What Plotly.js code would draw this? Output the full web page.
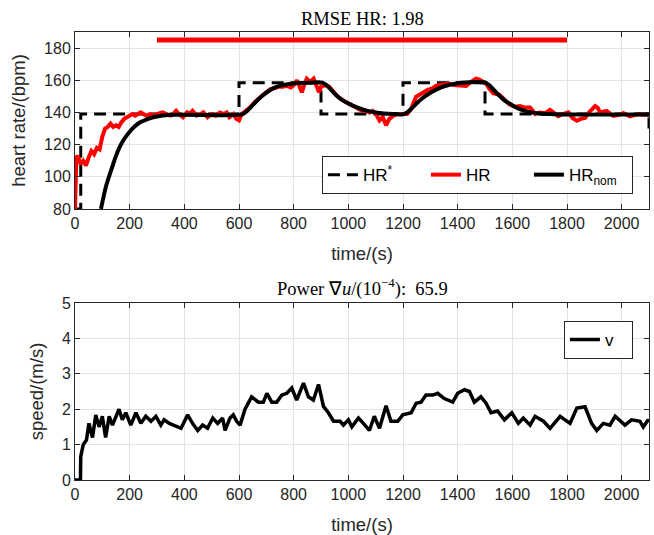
<!DOCTYPE html>
<html>
<head>
<meta charset="utf-8">
<script src="https://cdn.plot.ly/plotly-3.0.1.min.js"></script>
<style>html,body{margin:0;padding:0;background:#fff}#chart{width:654px;height:535px}</style>
</head>
<body>
<div id="chart"></div>
<script>
// ---- data ----
var refTime = [0, 21, 21, 600, 600, 900, 900, 1200, 1200, 1500, 1500, 2100, 2100];
var refHR   = [80, 80, 139, 139, 158.5, 158.5, 139, 139, 158.5, 158.5, 139, 139, 130];

var hrTime = [0,5,10,20,30,40,50,60,70,80,90,100,110,120,130,140,150,160,170,180,190,200,210,220,230,240,250,260,275,290,300,320,335,350,360,370,380,395,410,420,430,445,460,470,485,500,515,530,545,555,565,580,590,600,610,625,640,655,670,685,700,715,730,745,760,775,790,800,812,820,830,840,848,860,873,880,893,900,915,930,945,960,975,990,1005,1020,1035,1050,1065,1077,1089,1101,1114,1126,1138,1150,1165,1180,1195,1205,1215,1230,1248,1260,1275,1290,1309,1320,1335,1350,1370,1385,1406,1420,1431,1445,1455,1467,1478,1490,1504,1515,1530,1553,1570,1589,1610,1628,1645,1665,1684,1700,1720,1738,1755,1768,1785,1805,1820,1836,1850,1866,1880,1893,1903,1912,1921,1945,1958,1970,1990,2006,2020,2030,2050,2067,2080,2092,2100];
var hrVal  = [80,112,113,108,110,107,112,116,114,118,117,125,130,131,133,131,132,131,134,136,137,138,139,138,139,140,139,138,139,138,139,140,139,138,139,141,139,137,140,139,141,138,139,140,137,139,138,140,139,140,137,139,136,135,139,141,143,146,148.5,150.5,152.5,154.5,155,156,156,156.5,155.5,157,160,157,152.5,158,161,159,161,158,152.5,156,157,156,153,150,148,146.5,145,143.5,142,141,141,140,141,139,135,137,132,136,138,139,139,139,139,142.5,149.8,151,152.5,154,155,156.5,157,157.5,158,157,156.5,156.5,156.5,158.5,160,161,160.5,159,158,155,152,151,148,145,143.5,144,143,143,139,140,139.5,141.6,139.5,137.7,139,140,136.5,134.8,136,136.6,140,142,144,143,140,141,139,137.8,138.5,139.5,138.5,137.5,138.5,139,138.5,138.5,138.5];

var nomTime = [95,105,115,128,140,150,165,180,200,220,240,260,280,300,330,370,600,615,630,650,670,690,710,735,760,790,820,860,905,920,940,960,980,1000,1020,1045,1070,1100,1130,1170,1200,1215,1235,1255,1280,1310,1340,1370,1400,1430,1500,1515,1535,1555,1575,1595,1615,1640,1665,1700,1750,1800,2100];
var nomHR   = [80,88,95,102,108,113,119,123.5,128,131.5,134,135.5,136.7,137.5,138.2,138.5,138.5,139,141,144.5,148,151,153.5,155.8,157,157.8,158.3,158.5,158.5,157,153.5,150,147.5,145.5,144,142.3,141,140,139.4,139,138.8,140,143,146.5,150,153.2,155.6,157.2,158.2,158.6,158.6,157,153.5,150,147,145,143,141.3,140.2,139.3,138.9,138.7,138.7];

var barTime = [300, 1800];
var barHR   = [185, 185];

var vTime = [0,8,20,21,30,42,51,64,76,88,100,112,125,137,161,173,186,204,223,241,259,278,296,314,326,345,363,388,412,430,449,467,485,504,522,540,549,567,579,592,604,622,646,671,689,702,720,738,757,775,793,811,836,854,872,891,909,927,946,970,982,1000,1013,1037,1055,1077,1095,1114,1138,1156,1181,1199,1230,1248,1266,1284,1309,1327,1351,1382,1400,1425,1443,1461,1485,1504,1522,1546,1571,1598,1622,1640,1665,1683,1714,1738,1775,1811,1836,1866,1890,1909,1933,1957,1976,1994,2012,2036,2067,2079,2097,2100];
var vVal  = [0,0,0,0.66,1.0,1.13,1.6,1.2,1.84,1.5,1.8,1.2,1.8,1.55,2.0,1.7,1.9,1.55,1.9,1.6,1.8,1.66,1.8,1.55,1.7,1.6,1.55,1.46,1.84,1.6,1.4,1.55,1.46,1.75,1.6,1.75,1.4,1.75,1.84,1.65,1.55,2.0,2.35,2.2,2.2,2.45,2.2,2.2,2.4,2.45,2.6,2.26,2.74,2.35,2.26,2.7,2.08,1.9,1.66,1.66,1.55,1.7,1.5,1.75,1.6,1.4,1.8,1.46,2.1,1.66,1.66,1.84,1.9,2.17,2.2,2.4,2.4,2.45,2.3,2.2,2.45,2.55,2.5,2.2,2.35,2.17,1.9,1.95,1.7,1.9,1.6,1.75,1.55,1.8,1.66,1.46,1.8,1.6,2.03,2.07,1.6,1.4,1.6,1.55,1.8,1.66,1.55,1.7,1.66,1.5,1.7,1.65];

var xTicks = [0,200,400,600,800,1000,1200,1400,1600,1800,2000];
var hrTicks = [80,100,120,140,160,180];
var vTicks = [0,1,2,3,4,5];

// ---- chart ----
var sans = 'Liberation Sans, Arial, sans-serif';
var serif = 'Liberation Serif, Times New Roman, serif';
var axisCol = '#262626';

var traces = [
  {x: refTime, y: refHR, mode: 'lines', name: 'HR<sup>*</sup>', xaxis: 'x', yaxis: 'y',
   line: {color: '#000', width: 3, dash: '12px,7px'}, legend: 'legend'},
  {x: hrTime, y: hrVal, mode: 'lines', name: 'HR', xaxis: 'x', yaxis: 'y',
   line: {color: '#ff0000', width: 4}, legend: 'legend'},
  {x: nomTime, y: nomHR, mode: 'lines', name: 'HR<sub>nom</sub>', xaxis: 'x', yaxis: 'y',
   line: {color: '#000', width: 4, shape: 'spline'}, legend: 'legend'},
  {x: barTime, y: barHR, mode: 'lines', showlegend: false, xaxis: 'x', yaxis: 'y',
   line: {color: '#ff0000', width: 5}},
  {x: vTime, y: vVal, mode: 'lines', name: 'v', xaxis: 'x2', yaxis: 'y2',
   line: {color: '#000', width: 3.5}, legend: 'legend2'}
];

function xax(anchor) {
  return {
    anchor: anchor, domain: [0, 1], range: [0, 2100], tickvals: xTicks,
    showline: true, linecolor: axisCol, linewidth: 1, mirror: 'allticks',
    ticks: 'inside', ticklen: 5, tickcolor: axisCol, showgrid: true, gridcolor: '#e3e3e3',
    zeroline: false, tickfont: {family: sans, size: 16, color: axisCol},
    title: {text: 'time/(s)', font: {family: sans, size: 18.5, color: axisCol}, standoff: 15}
  };
}
function yax(anchor, dom, rng, tv, ttl) {
  return {
    anchor: anchor, domain: dom, range: rng, tickvals: tv,
    showline: true, linecolor: axisCol, linewidth: 1, mirror: 'allticks',
    ticks: 'inside', ticklen: 5, tickcolor: axisCol, showgrid: true, gridcolor: '#e3e3e3',
    zeroline: false, tickfont: {family: sans, size: 16, color: axisCol},
    title: {text: ttl, font: {family: sans, size: 18.5, color: axisCol}, standoff: 13}
  };
}

var layout = {
  width: 654, height: 535,
  margin: {l: 75, r: 5, t: 32, b: 55},
  paper_bgcolor: '#fff', plot_bgcolor: '#fff',
  xaxis: xax('y'),
  yaxis: yax('x', [0.605, 1], [80, 190], hrTicks, 'heart rate/(bpm)'),
  xaxis2: xax('y2'),
  yaxis2: yax('x2', [0, 0.395], [0, 5], vTicks, 'speed/(m/s)'),
  legend: {orientation: 'h', x: 0.972, xanchor: 'right', y: 0.723, yanchor: 'top',
    bgcolor: '#fff', bordercolor: axisCol, borderwidth: 1, entrywidth: 58,
    font: {family: sans, size: 17, color: '#000'}, traceorder: 'normal'},
  legend2: {orientation: 'h', x: 0.972, xanchor: 'right', y: 0.355, yanchor: 'top',
    bgcolor: '#fff', bordercolor: axisCol, borderwidth: 1, entrywidth: 22,
    font: {family: sans, size: 17, color: '#000'}},
  annotations: [
    {text: 'RMSE HR: 1.98', xref: 'paper', yref: 'paper', x: 0.5, y: 1, yanchor: 'bottom', yshift: 1,
     showarrow: false, font: {family: serif, size: 18.5, color: '#000'}},
    {text: 'Power \u2207<i>u</i>/(10<sup>\u22124</sup>):  65.9', xref: 'paper', yref: 'paper', x: 0.5, y: 0.395,
     yanchor: 'bottom', yshift: 1, showarrow: false, font: {family: serif, size: 18.5, color: '#000'}}
  ]
};

Plotly.newPlot('chart', traces, layout, {displayModeBar: false, staticPlot: true});
</script>
</body>
</html>
